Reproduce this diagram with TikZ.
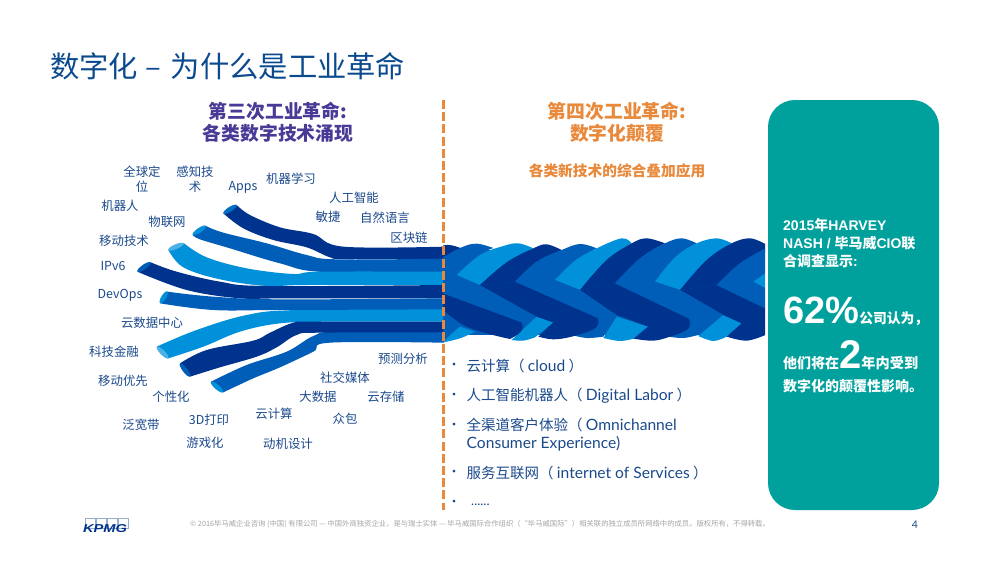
\documentclass[tikz,border=0pt]{standalone}
\usepackage{fontspec}
\setmainfont{Liberation Sans}
\newfontfamily\cjk{Noto Sans CJK SC}
\newfontfamily\lat{Lato}
\definecolor{dk}{HTML}{00338D}
\definecolor{md}{HTML}{005EB8}
\definecolor{lt}{HTML}{0091DA}
\definecolor{teal}{HTML}{00A19C}
\definecolor{org}{HTML}{E8893B}
\definecolor{pur}{HTML}{483A96}
\definecolor{navy}{HTML}{1B4A8C}
\definecolor{ttl}{HTML}{0B4A8F}
\tikzset{
 lab/.style={font=\cjk\fontsize{12.4pt}{15pt}\selectfont,text=navy,inner sep=0pt,align=center,yshift=-.7pt},
 bul/.style={font=\cjk\fontsize{14.5pt}{18pt}\selectfont,text=navy,inner sep=0pt,anchor=west,align=left},
 dot/.style={font=\cjk\fontsize{13pt}{14pt}\selectfont,text=navy,inner sep=0pt},
 head/.style={font=\cjk\bfseries\fontsize{18.8pt}{22pt}\selectfont,inner sep=0pt,align=center},
 cardt/.style={text=white,inner sep=0pt,anchor=base west,font=\bfseries\fontsize{14pt}{16pt}\selectfont},
 sm/.style={smooth,tension=.6}
}
\newcommand{\zh}[1]{{\cjk #1}}
\newcommand{\blat}[1]{{\lat\fontsize{15.6pt}{18pt}\selectfont #1}}
\newcommand{\stip}[5]{\fill[#1,rotate around={#4:(#2,#3)}] (#2,#3) ellipse (#5pt and 2.4pt);}
\begin{document}
\begin{tikzpicture}[x=1pt,y=-1pt]
\useasboundingbox (0,0) rectangle (1000,562);
\fill[white] (0,0) rectangle (1000,562);
\node[anchor=west,inner sep=0pt,text=ttl,font=\cjk\fontsize{29.3pt}{32pt}\selectfont] (title) at (50,66) {数字化\hspace{7pt}–\hspace{10pt}为什么是工业革命};
\node[head,text=pur] (h3) at (278,122) {第三次工业革命:\\各类数字技术涌现};
\node[head,text=org] (h4) at (617,122) {第四次工业革命:\\数字化颠覆};
\node[inner sep=0pt,text=org,font=\cjk\bfseries\fontsize{14.7pt}{18pt}\selectfont] (sub) at (617,171) {各类新技术的综合叠加应用};
% left strands
\begin{scope}[shift={(80,150)},x=.33333pt,y=-.33333pt]
\fill[lt] (230,590) --plot[sm] coordinates {(230,590) (350,540) (500,495) (650,480) (1092,475)} -- (1092,515) --plot[sm] coordinates {(1092,515) (750,515) (600,520) (480,545) (370,590) (265,625)} -- cycle;
\fill[md] (393,695) --plot[sm] coordinates {(393,695) (500,645) (620,605) (700,558) (770,545) (1092,545)} -- (1092,578) --plot[sm] coordinates {(1092,578) (750,578) (700,605) (600,652) (520,685) (430,727)} -- cycle;
\fill[dk] (300,640) --plot[sm] coordinates {(300,640) (380,600) (520,572) (570,548) (640,518) (700,515) (1092,515)} -- (1092,547) --plot[sm] coordinates {(1092,547) (720,548) (650,555) (590,592) (530,620) (420,652) (330,680)} -- cycle;
\fill[dk] (470,165) --plot[sm] coordinates {(470,165) (510,195) (600,232) (700,252) (790,290) (1092,290)} -- (1092,327) --plot[sm] coordinates {(1092,327) (800,327) (750,322) (680,292) (580,270) (490,235) (430,190)} -- cycle;
\fill[md] (378,228) --plot[sm] coordinates {(378,228) (430,248) (560,280) (680,315) (770,328) (1092,326)} -- (1092,366) --plot[sm] coordinates {(1092,366) (730,366) (600,340) (450,295) (360,268) (338,255)} -- cycle;
\fill[lt] (312,280) --plot[sm] coordinates {(312,280) (380,322) (500,355) (640,372) (720,365) (1092,365)} -- (1092,405) --plot[sm] coordinates {(1092,405) (680,405) (560,408) (420,388) (310,352) (265,300)} -- cycle;
\fill[dk] (212,337) --plot[sm] coordinates {(212,337) (290,365) (420,395) (560,408) (1092,405)} -- (1092,445) --plot[sm] coordinates {(1092,445) (620,445) (480,445) (320,420) (172,365)} -- cycle;
\fill[md] (262,425) --plot[sm] coordinates {(262,425) (400,440) (600,448) (1092,445)} -- (1092,478) --plot[sm] coordinates {(1092,478) (600,480) (400,480) (240,460)} -- cycle;
\stip{md!70!lt}{450}{178}{32}{7.9}
\stip{lt}{358}{241}{34}{8}
\stip{lt!70!white}{288}{290}{23}{8.5}
\stip{md}{192}{351}{35}{8}
\stip{lt}{251}{442}{58}{6.9}
\stip{lt!70!white}{248}{608}{-45}{8.2}
\stip{md}{315}{660}{-53}{8.3}
\stip{lt}{411}{711}{-41}{8.1}
\end{scope}
% braid
\begin{scope}[shift={(430,220)},x=.33333pt,y=-.33333pt]
\clip (39,0) rectangle (1005,420);
\fill[md] (39,90) rectangle (1006,345);
% rear blobs
\fill[dk] (30,80) --plot[sm] coordinates {(30,78) (60,75) (95,85)} -- (40,110) -- cycle;
\fill[md] (39,260) -- (110,325) -- (85,352) --plot[sm] coordinates {(85,352) (60,362) (39,366)} -- cycle;
\fill[lt] (39,367) --plot[sm] coordinates {(39,367) (90,355) (135,335)} -- (90,320) -- (60,345) -- cycle;
\fill[lt] (245,360) -- (320,290) -- (370,307) -- (315,352) --plot[sm] coordinates {(315,352) (280,362) (245,360)} -- cycle;
\fill[md] (495,285) -- (560,290) -- (520,350) --plot[sm] coordinates {(520,350) (470,354) (425,345)} -- cycle;
\fill[lt] (520,354) -- (560,290) -- (655,320) -- (610,356) --plot[sm] coordinates {(610,356) (570,363) (520,354)} -- cycle;
\fill[md] (770,290) -- (880,285) -- (805,345) --plot[sm] coordinates {(805,345) (760,354) (715,350)} -- cycle;
\fill[lt] (805,348) -- (880,285) -- (935,310) -- (890,350) --plot[sm] coordinates {(890,350) (850,363) (805,348)} -- cycle;
% up-right arms
\fill[md] (39,170) --plot[sm] coordinates {(39,170) (48,112) (95,82) (140,71) (190,84)} --plot[sm] coordinates {(190,84) (130,112) (80,165)} -- cycle;
\fill[lt] (80,165) --plot[sm] coordinates {(80,165) (150,105) (220,78) (265,70) (310,85)} --plot[sm] coordinates {(310,85) (230,127) (150,195)} -- cycle;
\fill[dk] (150,195) --plot[sm] coordinates {(150,195) (230,127) (310,85) (350,73) (395,90)} --plot[sm] coordinates {(395,90) (320,125) (255,185)} -- cycle;
\fill[md] (255,185) --plot[sm] coordinates {(255,185) (320,125) (395,90) (450,72) (500,85)} --plot[sm] coordinates {(500,85) (435,122) (375,180)} -- cycle;
\fill[lt] (375,180) --plot[sm] coordinates {(375,180) (435,122) (500,85) (575,55) (605,70)} --plot[sm] coordinates {(605,70) (530,120) (450,210)} -- cycle;
\fill[dk] (450,210) --plot[sm] coordinates {(450,210) (530,120) (605,70) (650,55) (705,70)} --plot[sm] coordinates {(705,70) (630,115) (555,190)} -- cycle;
\fill[md] (555,190) --plot[sm] coordinates {(555,190) (630,115) (705,70) (755,55) (800,70)} --plot[sm] coordinates {(800,70) (735,112) (675,185)} -- cycle;
\fill[lt] (675,185) --plot[sm] coordinates {(675,185) (735,112) (800,70) (860,55) (905,70)} --plot[sm] coordinates {(905,70) (830,120) (750,210)} -- cycle;
\fill[dk] (750,210) --plot[sm] coordinates {(750,210) (830,120) (905,70) (960,55) (1006,72)} -- (1006,95) --plot[sm] coordinates {(1006,95) (930,130) (860,195)} -- cycle;
\fill[md] (860,195) --plot[sm] coordinates {(860,195) (930,130) (1006,85)} -- (1006,160) -- (970,185) -- cycle;
\fill[lt] (970,185) -- (1006,160) -- (1006,205) -- cycle;
% dark down arms
\fill[dk] (39,220) -- (275,307) --plot[sm] coordinates {(275,307) (278,325) (265,342) (240,357)} --plot[sm] coordinates {(240,357) (170,340) (100,315) (39,270)} -- cycle;
\fill[dk] (150,195) -- (320,290) -- (370,307) -- (325,350) --plot[sm] coordinates {(325,350) (370,358) (425,350) (490,328) (505,308) (500,290)} -- (255,185) -- cycle;
\fill[dk] (450,210) -- (560,285) -- (655,320) -- (610,356) --plot[sm] coordinates {(610,356) (670,362) (720,350) (770,330) (780,308) (775,293)} -- (555,190) -- cycle;
\fill[dk] (750,210) -- (880,285) -- (935,310) -- (890,350) --plot[sm] coordinates {(890,350) (950,362) (1006,345)} -- (1006,265) -- (860,195) -- cycle;
% mid down arms
\fill[md] (39,170) -- (80,165) -- (320,290) -- (275,307) -- (39,220) -- cycle;
\fill[md] (255,185) -- (300,150) -- (375,180) -- (450,210) -- (560,290) -- (505,295) -- cycle;
\fill[md] (555,190) -- (600,150) -- (675,185) -- (750,210) -- (880,285) -- (775,295) -- cycle;
\fill[md] (860,195) -- (900,160) -- (970,185) -- (1006,205) -- (1006,265) -- cycle;
\end{scope}
% labels
\node[lab] (l1) at (142,179) {全球定\\位};
\node[lab] (l2) at (195,179) {感知技\\术};
\node[lab] (l3) at (243,187) {Apps};
\node[lab] (l4) at (291,178) {机器学习};
\node[lab] (l5) at (354,197) {人工智能};
\node[lab] (l6) at (328,216) {敏捷};
\node[lab] (l7) at (385,217) {自然语言};
\node[lab] (l8) at (409,237) {区块链};
\node[lab] (l9) at (120,205) {机器人};
\node[lab] (l10) at (167,221) {物联网};
\node[lab] (l11) at (124,240) {移动技术};
\node[lab] (l12) at (113,265) {IPv6};
\node[lab] (l13) at (120,295) {DevOps};
\node[lab] (l14) at (152,322) {云数据中心};
\node[lab] (l15) at (114,351) {科技金融};
\node[lab] (l16) at (123,380) {移动优先};
\node[lab] (l17) at (171,396) {个性化};
\node[lab] (l18) at (141,424) {泛宽带};
\node[lab] (l19) at (209,419) {3D打印};
\node[lab] (l20) at (205,442) {游戏化};
\node[lab] (l21) at (274,413) {云计算};
\node[lab] (l22) at (288,443) {动机设计};
\node[lab] (l23) at (318,396) {大数据};
\node[lab] (l24) at (345,418) {众包};
\node[lab] (l25) at (345,377) {社交媒体};
\node[lab] (l26) at (386,396) {云存储};
\node[lab] (l27) at (403,358) {预测分析};
% bullets
\node[dot] (d1) at (454,366) {•};
\node[dot] (d2) at (454,396) {•};
\node[dot] (d3) at (454,426) {•};
\node[dot] (d4) at (454,473) {•};
\node[dot] (d5) at (454,503) {•};
\node[bul] (b1) at (466.5,366) {云计算（ \blat{cloud} ）};
\node[bul] (b2) at (466.5,396) {人工智能机器人（ \blat{Digital Labor} ）};
\node[bul] (b3) at (466.5,434.5) {全渠道客户体验（ \blat{Omnichannel}\\\blat{Consumer Experience)}};
\node[bul] (b4) at (466.5,473) {服务互联网（ \blat{internet of Services} ）};
\node[bul,font=\lat\fontsize{13pt}{16pt}\selectfont] (b5) at (471,505) {......};
% divider
\draw[org,line width=3pt,dash pattern=on 9pt off 3.2pt] (443,100) -- (443,510);
% card
\fill[teal,rounded corners=27pt] (768,100) rectangle (939,510);
\node[cardt] (c1) at (783,230) {2015\zh{年}HARVEY};
\node[cardt] (c2) at (783,248) {NASH / \zh{毕马威}CIO\zh{联}};
\node[cardt] (c3) at (783,266) {\zh{合调查显示}:};
\node[cardt] (c4) at (783,323) {\fontsize{38pt}{40pt}\selectfont 62\%\fontsize{13.8pt}{16pt}\selectfont\zh{公司认为，}};
\node[cardt] (c5) at (783,368) {\zh{他们将在}\fontsize{40pt}{40pt}\selectfont 2\fontsize{14.2pt}{16pt}\selectfont\zh{年内受到}};
\node[cardt] (c6) at (783,391) {\zh{数字化的颠覆性影响。}};
% footer
\node[anchor=base west,inner sep=0pt,text=black!35,font=\cjk\fontsize{7.33pt}{9pt}\selectfont] (foot) at (190,526) {© 2016毕马威企业咨询 (中国) 有限公司 — 中国外商独资企业，是与瑞士实体 — 毕马威国际合作组织（“毕马威国际”）相关联的独立成员所网络中的成员。版权所有，不得转载。};
\node[anchor=center,inner sep=0pt,text=navy,font=\lat\fontsize{10.5pt}{12pt}\selectfont] (pg) at (915,525) {4};
% logo
\draw[navy!45,line width=.5pt] (85,518) rectangle (95.5,528) (96,518) rectangle (106.5,528) (107,518) rectangle (117.5,528) (118,518) rectangle (128.5,528);
\node[anchor=center,inner sep=0pt,text=dk,font=\bfseries\itshape] (kpmg) at (105,529) {\resizebox{44pt}{8pt}{KPMG}};
\end{tikzpicture}
\end{document}
